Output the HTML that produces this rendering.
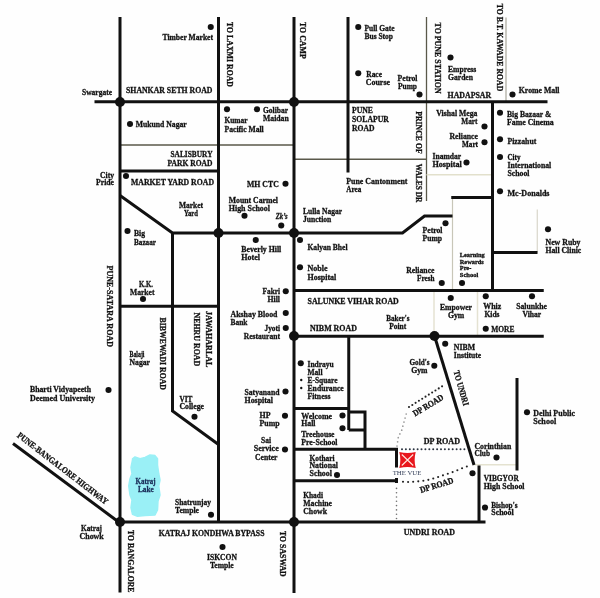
<!DOCTYPE html>
<html><head><meta charset="utf-8"><style>
html,body{margin:0;padding:0;background:#fff;}
svg{display:block;will-change:transform;filter:blur(0.3px);}
text{font-family:"Liberation Serif", serif;stroke-width:0.3px;}
</style></head><body>
<svg width="600" height="598" viewBox="0 0 600 598">
<rect width="600" height="598" fill="#fefefe"/>
<path d="M120,145 L294,145" fill="none" stroke="#5a584a" stroke-width="1.3" stroke-linecap="butt" stroke-linejoin="miter"/>
<path d="M294,159.25 L426.5,159.25" fill="none" stroke="#5a584a" stroke-width="1.3" stroke-linecap="butt" stroke-linejoin="miter"/>
<path d="M426.5,17 L426.5,201" fill="none" stroke="#5a584a" stroke-width="1.3" stroke-linecap="butt" stroke-linejoin="miter"/>
<path d="M426.5,174.75 L492.5,174.75" fill="none" stroke="#e2e0cc" stroke-width="1.5" stroke-linecap="butt" stroke-linejoin="miter"/>
<path d="M506,17.5 L506,101.75" fill="none" stroke="#a8a69a" stroke-width="1.2" stroke-linecap="butt" stroke-linejoin="miter"/>
<path d="M452.5,197 L452.5,290" fill="none" stroke="#c8c6b8" stroke-width="1.2" stroke-linecap="butt" stroke-linejoin="miter"/>
<path d="M537.3,209.5 L537.3,252.75" fill="none" stroke="#dcdacf" stroke-width="1.3" stroke-linecap="butt" stroke-linejoin="miter"/>
<path d="M434,290 L434,336" fill="none" stroke="#e4e2d2" stroke-width="1.5" stroke-linecap="butt" stroke-linejoin="miter"/>
<path d="M477.5,290 L477.5,336" fill="none" stroke="#e4e2d2" stroke-width="1.5" stroke-linecap="butt" stroke-linejoin="miter"/>
<path d="M474.5,464.75 L517,464.75" fill="none" stroke="#e4e2d0" stroke-width="1.5" stroke-linecap="butt" stroke-linejoin="miter"/>
<path d="M120,17 L120,592.5" fill="none" stroke="#111" stroke-width="3.0" stroke-linecap="butt" stroke-linejoin="miter"/>
<path d="M218.5,17 L218.5,522" fill="none" stroke="#111" stroke-width="3.0" stroke-linecap="butt" stroke-linejoin="miter"/>
<path d="M294,17 L294,593" fill="none" stroke="#111" stroke-width="3.0" stroke-linecap="butt" stroke-linejoin="miter"/>
<path d="M348,17 L348,172.5" fill="none" stroke="#111" stroke-width="3.0" stroke-linecap="butt" stroke-linejoin="miter"/>
<path d="M94.5,101.75 L547.5,101.75" fill="none" stroke="#111" stroke-width="3.0" stroke-linecap="butt" stroke-linejoin="miter"/>
<path d="M120,171 L218.5,171" fill="none" stroke="#111" stroke-width="3.0" stroke-linecap="butt" stroke-linejoin="miter"/>
<path d="M120,195.5 L172.5,233 L402.5,233 L424.5,216 L452.5,216" fill="none" stroke="#111" stroke-width="3.0" stroke-linecap="butt" stroke-linejoin="miter"/>
<path d="M172.5,233 L172.5,411 L218.5,444.5" fill="none" stroke="#111" stroke-width="3.0" stroke-linecap="butt" stroke-linejoin="miter"/>
<path d="M120,306.2 L218.5,306.2" fill="none" stroke="#111" stroke-width="3.0" stroke-linecap="butt" stroke-linejoin="miter"/>
<path d="M294,290.5 L543.75,290.5" fill="none" stroke="#111" stroke-width="3.0" stroke-linecap="butt" stroke-linejoin="miter"/>
<path d="M294,336.3 L543.75,336.3" fill="none" stroke="#111" stroke-width="3.0" stroke-linecap="butt" stroke-linejoin="miter"/>
<path d="M492.5,101.75 L492.5,290.5" fill="none" stroke="#111" stroke-width="3.0" stroke-linecap="butt" stroke-linejoin="miter"/>
<path d="M451.25,197.5 L492.5,197.5" fill="none" stroke="#111" stroke-width="3.0" stroke-linecap="butt" stroke-linejoin="miter"/>
<path d="M492.5,252.5 L537.5,252.5" fill="none" stroke="#111" stroke-width="3.0" stroke-linecap="butt" stroke-linejoin="miter"/>
<path d="M294,408.5 L348.75,408.5" fill="none" stroke="#111" stroke-width="3.0" stroke-linecap="butt" stroke-linejoin="miter"/>
<path d="M348.75,336 L348.75,430" fill="none" stroke="#111" stroke-width="3.0" stroke-linecap="butt" stroke-linejoin="miter"/>
<path d="M348.75,412 L365,412 L365,449.25" fill="none" stroke="#111" stroke-width="3.0" stroke-linecap="butt" stroke-linejoin="miter"/>
<path d="M348.75,430 L365,430" fill="none" stroke="#111" stroke-width="3.0" stroke-linecap="butt" stroke-linejoin="miter"/>
<path d="M294,449.25 L396.5,449.25 L396.5,467.5" fill="none" stroke="#111" stroke-width="3.0" stroke-linecap="butt" stroke-linejoin="miter"/>
<path d="M294,480.8 L396.5,480.8" fill="none" stroke="#111" stroke-width="3.0" stroke-linecap="butt" stroke-linejoin="miter"/>
<path d="M396.5,478 L396.5,483" fill="none" stroke="#111" stroke-width="3.0" stroke-linecap="butt" stroke-linejoin="miter"/>
<path d="M120,522 L485.5,522" fill="none" stroke="#111" stroke-width="3.0" stroke-linecap="butt" stroke-linejoin="miter"/>
<path d="M434.5,336 L474,465" fill="none" stroke="#111" stroke-width="3.0" stroke-linecap="butt" stroke-linejoin="miter"/>
<path d="M479,465.5 L479,522" fill="none" stroke="#111" stroke-width="3.0" stroke-linecap="butt" stroke-linejoin="miter"/>
<path d="M517,378 L517,470.5" fill="none" stroke="#111" stroke-width="3.0" stroke-linecap="butt" stroke-linejoin="miter"/>
<path d="M13,443.5 L120,523" fill="none" stroke="#111" stroke-width="3.0" stroke-linecap="butt" stroke-linejoin="miter"/>
<circle cx="402.00" cy="449.30" r="1.0" fill="#2c3440"/>
<circle cx="405.90" cy="449.30" r="1.0" fill="#2c3440"/>
<circle cx="409.80" cy="449.30" r="1.0" fill="#2c3440"/>
<circle cx="413.70" cy="449.30" r="1.0" fill="#2c3440"/>
<circle cx="417.60" cy="449.30" r="1.0" fill="#2c3440"/>
<circle cx="421.50" cy="449.30" r="1.0" fill="#2c3440"/>
<circle cx="425.40" cy="449.30" r="1.0" fill="#2c3440"/>
<circle cx="429.30" cy="449.30" r="1.0" fill="#2c3440"/>
<circle cx="433.20" cy="449.30" r="1.0" fill="#2c3440"/>
<circle cx="437.10" cy="449.30" r="1.0" fill="#2c3440"/>
<circle cx="441.00" cy="449.30" r="1.0" fill="#2c3440"/>
<circle cx="444.90" cy="449.30" r="1.0" fill="#2c3440"/>
<circle cx="448.80" cy="449.30" r="1.0" fill="#2c3440"/>
<circle cx="452.70" cy="449.30" r="1.0" fill="#2c3440"/>
<circle cx="456.60" cy="449.30" r="1.0" fill="#2c3440"/>
<circle cx="460.50" cy="449.30" r="1.0" fill="#2c3440"/>
<circle cx="464.40" cy="449.30" r="1.0" fill="#2c3440"/>
<circle cx="403.00" cy="481.70" r="1.05" fill="#222"/>
<circle cx="408.09" cy="481.99" r="1.05" fill="#222"/>
<circle cx="413.18" cy="481.73" r="1.05" fill="#222"/>
<circle cx="418.27" cy="481.36" r="1.05" fill="#222"/>
<circle cx="423.34" cy="480.81" r="1.05" fill="#222"/>
<circle cx="428.35" cy="479.87" r="1.05" fill="#222"/>
<circle cx="433.26" cy="478.52" r="1.05" fill="#222"/>
<circle cx="438.13" cy="477.00" r="1.05" fill="#222"/>
<circle cx="442.96" cy="475.36" r="1.05" fill="#222"/>
<circle cx="447.79" cy="473.73" r="1.05" fill="#222"/>
<circle cx="452.62" cy="472.09" r="1.05" fill="#222"/>
<circle cx="457.37" cy="470.24" r="1.05" fill="#222"/>
<circle cx="462.07" cy="468.26" r="1.05" fill="#222"/>
<circle cx="466.84" cy="466.46" r="1.05" fill="#222"/>
<circle cx="409.00" cy="407.00" r="1.05" fill="#222"/>
<circle cx="412.31" cy="404.93" r="1.05" fill="#222"/>
<circle cx="415.61" cy="402.87" r="1.05" fill="#222"/>
<circle cx="418.92" cy="400.80" r="1.05" fill="#222"/>
<circle cx="422.23" cy="398.73" r="1.05" fill="#222"/>
<circle cx="425.54" cy="396.67" r="1.05" fill="#222"/>
<circle cx="428.84" cy="394.60" r="1.05" fill="#222"/>
<circle cx="432.15" cy="392.53" r="1.05" fill="#222"/>
<circle cx="435.46" cy="390.46" r="1.05" fill="#222"/>
<circle cx="438.76" cy="388.40" r="1.05" fill="#222"/>
<circle cx="442.07" cy="386.33" r="1.05" fill="#222"/>
<circle cx="396.50" cy="518.50" r="0.8" fill="#707070"/>
<circle cx="396.50" cy="514.20" r="0.8" fill="#707070"/>
<circle cx="396.50" cy="509.90" r="0.8" fill="#707070"/>
<circle cx="396.50" cy="505.60" r="0.8" fill="#707070"/>
<circle cx="396.50" cy="501.30" r="0.8" fill="#707070"/>
<circle cx="396.50" cy="497.00" r="0.8" fill="#707070"/>
<circle cx="396.50" cy="492.70" r="0.8" fill="#707070"/>
<circle cx="396.50" cy="488.40" r="0.8" fill="#707070"/>
<circle cx="397.00" cy="446.00" r="0.85" fill="#9a9a9a"/>
<circle cx="397.62" cy="441.85" r="0.85" fill="#9a9a9a"/>
<circle cx="398.25" cy="437.69" r="0.85" fill="#9a9a9a"/>
<circle cx="399.86" cy="433.91" r="0.85" fill="#9a9a9a"/>
<circle cx="401.72" cy="430.20" r="0.85" fill="#9a9a9a"/>
<circle cx="402.84" cy="426.15" r="0.85" fill="#9a9a9a"/>
<circle cx="403.97" cy="422.11" r="0.85" fill="#9a9a9a"/>
<circle cx="405.09" cy="418.06" r="0.85" fill="#9a9a9a"/>
<circle cx="406.22" cy="414.01" r="0.85" fill="#9a9a9a"/>
<path d="M132.5,458.75 L135,456.9 L140,458.75 L145,457.5 L150,455 L155,455.6 L157.5,458.75 L157.5,465 L158.75,473.75 L160,480 L158.75,486 L160,495 L158,501 L157.5,510 L155,515 L145,515.6 L137.5,516.25 L132.5,514.4 L131,507.5 L132,500 L130,495 L128.75,486 L130,478.75 L132,473.75 L131,467.5 L132.5,460 Z" fill="#9af0f6" stroke="#9af0f6" stroke-width="1.5" stroke-linejoin="round"/>
<circle cx="210.75" cy="27" r="3.05" fill="#111"/>
<circle cx="130" cy="124" r="3.05" fill="#111"/>
<circle cx="126" cy="176" r="3.05" fill="#111"/>
<circle cx="127.5" cy="231" r="3.05" fill="#111"/>
<circle cx="143" cy="299" r="3.05" fill="#111"/>
<circle cx="108.5" cy="390" r="3.05" fill="#111"/>
<circle cx="194.5" cy="416.75" r="3.05" fill="#111"/>
<circle cx="211" cy="514.75" r="3.05" fill="#111"/>
<circle cx="222.5" cy="547" r="3.05" fill="#111"/>
<circle cx="285.5" cy="391.5" r="3.05" fill="#111"/>
<circle cx="285" cy="415.75" r="3.05" fill="#111"/>
<circle cx="285" cy="449.5" r="3.05" fill="#111"/>
<circle cx="227" cy="109.25" r="3.05" fill="#111"/>
<circle cx="257" cy="109.25" r="3.05" fill="#111"/>
<circle cx="285.5" cy="183.75" r="3.05" fill="#111"/>
<circle cx="244.5" cy="215.75" r="3.05" fill="#111"/>
<circle cx="281.25" cy="225.5" r="3.05" fill="#111"/>
<circle cx="255.75" cy="240" r="3.05" fill="#111"/>
<circle cx="300" cy="240" r="3.05" fill="#111"/>
<circle cx="300" cy="267.25" r="3.05" fill="#111"/>
<circle cx="285.75" cy="291.25" r="3.05" fill="#111"/>
<circle cx="285.75" cy="313" r="3.05" fill="#111"/>
<circle cx="285.75" cy="328" r="3.05" fill="#111"/>
<circle cx="300.75" cy="363.25" r="3.05" fill="#111"/>
<circle cx="342.5" cy="415.5" r="3.05" fill="#111"/>
<circle cx="342.5" cy="428.25" r="3.05" fill="#111"/>
<circle cx="337" cy="475" r="3.05" fill="#111"/>
<circle cx="496.5" cy="457.5" r="3.05" fill="#111"/>
<circle cx="472.5" cy="473.25" r="3.05" fill="#111"/>
<circle cx="485" cy="507.5" r="3.05" fill="#111"/>
<circle cx="527" cy="412.25" r="3.05" fill="#111"/>
<circle cx="445.2" cy="343.7" r="3.05" fill="#111"/>
<circle cx="434.3" cy="365.8" r="3.05" fill="#111"/>
<circle cx="450.75" cy="298" r="3.05" fill="#111"/>
<circle cx="485.75" cy="296.25" r="3.05" fill="#111"/>
<circle cx="532" cy="296.25" r="3.05" fill="#111"/>
<circle cx="485.75" cy="328.75" r="3.05" fill="#111"/>
<circle cx="441.75" cy="283" r="3.05" fill="#111"/>
<circle cx="462" cy="283" r="3.05" fill="#111"/>
<circle cx="445.5" cy="223.25" r="3.05" fill="#111"/>
<circle cx="548" cy="229.25" r="3.05" fill="#111"/>
<circle cx="500" cy="191.25" r="3.05" fill="#111"/>
<circle cx="500" cy="157" r="3.05" fill="#111"/>
<circle cx="500" cy="139.3" r="3.05" fill="#111"/>
<circle cx="500" cy="112.75" r="3.05" fill="#111"/>
<circle cx="512.5" cy="94.5" r="3.05" fill="#111"/>
<circle cx="484.5" cy="126.5" r="3.05" fill="#111"/>
<circle cx="484.5" cy="142.25" r="3.05" fill="#111"/>
<circle cx="466.5" cy="162.5" r="3.05" fill="#111"/>
<circle cx="358.25" cy="27" r="3.05" fill="#111"/>
<circle cx="358.25" cy="73.25" r="3.05" fill="#111"/>
<circle cx="419.5" cy="94.5" r="3.05" fill="#111"/>
<circle cx="450.5" cy="57.5" r="3.05" fill="#111"/>
<circle cx="301.25" cy="380" r="1.2" fill="#111"/>
<circle cx="301.25" cy="388" r="1.2" fill="#111"/>
<circle cx="120" cy="102" r="5" fill="#111"/>
<circle cx="294" cy="102" r="5" fill="#111"/>
<circle cx="218.5" cy="233" r="5" fill="#111"/>
<circle cx="294" cy="233" r="5" fill="#111"/>
<circle cx="294" cy="336" r="5" fill="#111"/>
<circle cx="434.5" cy="336" r="5" fill="#111"/>
<circle cx="120" cy="522" r="5" fill="#111"/>
<circle cx="294" cy="522" r="5" fill="#111"/>
<text x="162.5" y="40" font-size="8.6" textLength="50.50" lengthAdjust="spacingAndGlyphs" font-weight="bold" fill="#111" stroke="#111">Timber Market</text>
<text x="126" y="92.5" font-size="8.8" textLength="86.50" lengthAdjust="spacingAndGlyphs" font-weight="bold" fill="#111" stroke="#111">SHANKAR SETH ROAD</text>
<text x="82" y="95" font-size="8.6" textLength="30.00" lengthAdjust="spacingAndGlyphs" font-weight="bold" fill="#111" stroke="#111">Swargate</text>
<text x="135.75" y="127" font-size="8.6" textLength="51.00" lengthAdjust="spacingAndGlyphs" font-weight="bold" fill="#111" stroke="#111">Mukund Nagar</text>
<text x="170.5" y="157" font-size="8.8" textLength="42.00" lengthAdjust="spacingAndGlyphs" font-weight="bold" fill="#111" stroke="#111">SALISBURY</text>
<text x="167.5" y="165.5" font-size="8.8" textLength="45.00" lengthAdjust="spacingAndGlyphs" font-weight="bold" fill="#111" stroke="#111">PARK ROAD</text>
<text x="100" y="178" font-size="8.6" textLength="14.00" lengthAdjust="spacingAndGlyphs" font-weight="bold" fill="#111" stroke="#111">City</text>
<text x="96" y="184.7" font-size="8.6" textLength="18.00" lengthAdjust="spacingAndGlyphs" font-weight="bold" fill="#111" stroke="#111">Pride</text>
<text x="131" y="184.5" font-size="8.8" textLength="83.00" lengthAdjust="spacingAndGlyphs" font-weight="bold" fill="#111" stroke="#111">MARKET YARD ROAD</text>
<text x="179" y="208" font-size="8.6" textLength="24.00" lengthAdjust="spacingAndGlyphs" font-weight="bold" fill="#111" stroke="#111">Market</text>
<text x="184" y="216" font-size="8.6" textLength="14.00" lengthAdjust="spacingAndGlyphs" font-weight="bold" fill="#111" stroke="#111">Yard</text>
<text x="134" y="236" font-size="8.6" textLength="11.00" lengthAdjust="spacingAndGlyphs" font-weight="bold" fill="#111" stroke="#111">Big</text>
<text x="134" y="244.5" font-size="8.6" textLength="22.00" lengthAdjust="spacingAndGlyphs" font-weight="bold" fill="#111" stroke="#111">Bazaar</text>
<text x="139" y="287" font-size="8.8" textLength="14.00" lengthAdjust="spacingAndGlyphs" font-weight="bold" fill="#111" stroke="#111">K.K.</text>
<text x="130" y="295" font-size="8.6" textLength="24.50" lengthAdjust="spacingAndGlyphs" font-weight="bold" fill="#111" stroke="#111">Market</text>
<text x="129.5" y="357" font-size="8.6" textLength="15.00" lengthAdjust="spacingAndGlyphs" font-weight="bold" fill="#111" stroke="#111">Balaji</text>
<text x="129.5" y="365" font-size="8.6" textLength="20.50" lengthAdjust="spacingAndGlyphs" font-weight="bold" fill="#111" stroke="#111">Nagar</text>
<text x="30" y="392" font-size="8.6" textLength="61.00" lengthAdjust="spacingAndGlyphs" font-weight="bold" fill="#111" stroke="#111">Bharti Vidyapeeth</text>
<text x="30" y="400.5" font-size="8.6" textLength="65.00" lengthAdjust="spacingAndGlyphs" font-weight="bold" fill="#111" stroke="#111">Deemed University</text>
<text x="179.5" y="401.8" font-size="8.8" textLength="13.00" lengthAdjust="spacingAndGlyphs" font-weight="bold" fill="#111" stroke="#111">VIT</text>
<text x="179.5" y="409" font-size="8.6" textLength="24.50" lengthAdjust="spacingAndGlyphs" font-weight="bold" fill="#111" stroke="#111">College</text>
<text x="81" y="531" font-size="8.6" textLength="21.00" lengthAdjust="spacingAndGlyphs" font-weight="bold" fill="#111" stroke="#111">Katraj</text>
<text x="79.5" y="539" font-size="8.6" textLength="24.25" lengthAdjust="spacingAndGlyphs" font-weight="bold" fill="#111" stroke="#111">Chowk</text>
<text x="175" y="505" font-size="8.6" textLength="36.00" lengthAdjust="spacingAndGlyphs" font-weight="bold" fill="#111" stroke="#111">Shatrunjay</text>
<text x="175" y="512.5" font-size="8.6" textLength="24.00" lengthAdjust="spacingAndGlyphs" font-weight="bold" fill="#111" stroke="#111">Temple</text>
<text x="158.75" y="536.25" font-size="8.8" textLength="105.75" lengthAdjust="spacingAndGlyphs" font-weight="bold" fill="#111" stroke="#111">KATRAJ KONDHWA BYPASS</text>
<text x="207" y="559.5" font-size="8.8" textLength="30.00" lengthAdjust="spacingAndGlyphs" font-weight="bold" fill="#111" stroke="#111">ISKCON</text>
<text x="210" y="567.5" font-size="8.6" textLength="23.75" lengthAdjust="spacingAndGlyphs" font-weight="bold" fill="#111" stroke="#111">Temple</text>
<text x="244.5" y="395" font-size="8.6" textLength="35.00" lengthAdjust="spacingAndGlyphs" font-weight="bold" fill="#111" stroke="#111">Satyanand</text>
<text x="244.5" y="402.5" font-size="8.6" textLength="28.50" lengthAdjust="spacingAndGlyphs" font-weight="bold" fill="#111" stroke="#111">Hospital</text>
<text x="259.5" y="418" font-size="8.8" textLength="11.00" lengthAdjust="spacingAndGlyphs" font-weight="bold" fill="#111" stroke="#111">HP</text>
<text x="259.5" y="426" font-size="8.6" textLength="20.00" lengthAdjust="spacingAndGlyphs" font-weight="bold" fill="#111" stroke="#111">Pump</text>
<text x="261" y="442.5" font-size="8.6" textLength="10.00" lengthAdjust="spacingAndGlyphs" font-weight="bold" fill="#111" stroke="#111">Sai</text>
<text x="253.75" y="451" font-size="8.6" textLength="25.00" lengthAdjust="spacingAndGlyphs" font-weight="bold" fill="#111" stroke="#111">Service</text>
<text x="255" y="459.5" font-size="8.6" textLength="22.50" lengthAdjust="spacingAndGlyphs" font-weight="bold" fill="#111" stroke="#111">Center</text>
<text x="224.5" y="123.25" font-size="8.6" textLength="23.00" lengthAdjust="spacingAndGlyphs" font-weight="bold" fill="#111" stroke="#111">Kumar</text>
<text x="224.5" y="131.75" font-size="8.6" textLength="39.25" lengthAdjust="spacingAndGlyphs" font-weight="bold" fill="#111" stroke="#111">Pacific Mall</text>
<text x="263" y="113" font-size="8.6" textLength="25.00" lengthAdjust="spacingAndGlyphs" font-weight="bold" fill="#111" stroke="#111">Golibar</text>
<text x="263" y="121.25" font-size="8.6" textLength="25.75" lengthAdjust="spacingAndGlyphs" font-weight="bold" fill="#111" stroke="#111">Maidan</text>
<text x="247" y="187" font-size="8.8" textLength="31.75" lengthAdjust="spacingAndGlyphs" font-weight="bold" fill="#111" stroke="#111">MH CTC</text>
<text x="228.75" y="202.5" font-size="8.6" textLength="49.25" lengthAdjust="spacingAndGlyphs" font-weight="bold" fill="#111" stroke="#111">Mount Carmel</text>
<text x="228.75" y="210.5" font-size="8.6" textLength="41.25" lengthAdjust="spacingAndGlyphs" font-weight="bold" fill="#111" stroke="#111">High School</text>
<text x="241.25" y="251.75" font-size="8.6" textLength="40.00" lengthAdjust="spacingAndGlyphs" font-weight="bold" fill="#111" stroke="#111">Beverly Hill</text>
<text x="241.25" y="259.5" font-size="8.6" textLength="18.75" lengthAdjust="spacingAndGlyphs" font-weight="bold" fill="#111" stroke="#111">Hotel</text>
<text x="303" y="213.75" font-size="8.6" textLength="39.00" lengthAdjust="spacingAndGlyphs" font-weight="bold" fill="#111" stroke="#111">Lulla Nagar</text>
<text x="303" y="222" font-size="8.6" textLength="28.25" lengthAdjust="spacingAndGlyphs" font-weight="bold" fill="#111" stroke="#111">Junction</text>
<text x="307.5" y="249.5" font-size="8.6" textLength="40.00" lengthAdjust="spacingAndGlyphs" font-weight="bold" fill="#111" stroke="#111">Kalyan Bhel</text>
<text x="307.5" y="270.5" font-size="8.6" textLength="20.00" lengthAdjust="spacingAndGlyphs" font-weight="bold" fill="#111" stroke="#111">Noble</text>
<text x="307.5" y="279.5" font-size="8.6" textLength="28.75" lengthAdjust="spacingAndGlyphs" font-weight="bold" fill="#111" stroke="#111">Hospital</text>
<text x="262.5" y="293.75" font-size="8.6" textLength="17.50" lengthAdjust="spacingAndGlyphs" font-weight="bold" fill="#111" stroke="#111">Fakri</text>
<text x="267.5" y="301.75" font-size="8.6" textLength="12.50" lengthAdjust="spacingAndGlyphs" font-weight="bold" fill="#111" stroke="#111">Hill</text>
<text x="307.5" y="303.5" font-size="8.8" textLength="91.25" lengthAdjust="spacingAndGlyphs" font-weight="bold" fill="#111" stroke="#111">SALUNKE VIHAR ROAD</text>
<text x="230.5" y="316.75" font-size="8.6" textLength="47.00" lengthAdjust="spacingAndGlyphs" font-weight="bold" fill="#111" stroke="#111">Akshay Blood</text>
<text x="230.5" y="324.5" font-size="8.6" textLength="17.00" lengthAdjust="spacingAndGlyphs" font-weight="bold" fill="#111" stroke="#111">Bank</text>
<text x="264.5" y="330.75" font-size="8.6" textLength="15.50" lengthAdjust="spacingAndGlyphs" font-weight="bold" fill="#111" stroke="#111">Jyoti</text>
<text x="243.75" y="338.75" font-size="8.6" textLength="36.25" lengthAdjust="spacingAndGlyphs" font-weight="bold" fill="#111" stroke="#111">Restaurant</text>
<text x="310" y="330.5" font-size="8.8" textLength="47.00" lengthAdjust="spacingAndGlyphs" font-weight="bold" fill="#111" stroke="#111">NIBM ROAD</text>
<text x="307.5" y="367" font-size="8.6" textLength="26.25" lengthAdjust="spacingAndGlyphs" font-weight="bold" fill="#111" stroke="#111">Indrayu</text>
<text x="307.5" y="374.5" font-size="8.6" textLength="15.00" lengthAdjust="spacingAndGlyphs" font-weight="bold" fill="#111" stroke="#111">Mall</text>
<text x="307.5" y="383" font-size="8.6" textLength="30.00" lengthAdjust="spacingAndGlyphs" font-weight="bold" fill="#111" stroke="#111">E-Square</text>
<text x="307.5" y="391.25" font-size="8.6" textLength="36.25" lengthAdjust="spacingAndGlyphs" font-weight="bold" fill="#111" stroke="#111">Endurance</text>
<text x="307.5" y="398.75" font-size="8.6" textLength="23.00" lengthAdjust="spacingAndGlyphs" font-weight="bold" fill="#111" stroke="#111">Fitness</text>
<text x="301.25" y="418.75" font-size="8.6" textLength="30.75" lengthAdjust="spacingAndGlyphs" font-weight="bold" fill="#111" stroke="#111">Welcome</text>
<text x="301.25" y="426.25" font-size="8.6" textLength="14.25" lengthAdjust="spacingAndGlyphs" font-weight="bold" fill="#111" stroke="#111">Hall</text>
<text x="301.25" y="436.75" font-size="8.6" textLength="33.25" lengthAdjust="spacingAndGlyphs" font-weight="bold" fill="#111" stroke="#111">Treehouse</text>
<text x="301.25" y="444.5" font-size="8.6" textLength="36.25" lengthAdjust="spacingAndGlyphs" font-weight="bold" fill="#111" stroke="#111">Pre-School</text>
<text x="309.5" y="460.5" font-size="8.6" textLength="25.00" lengthAdjust="spacingAndGlyphs" font-weight="bold" fill="#111" stroke="#111">Kothari</text>
<text x="309.5" y="468.25" font-size="8.6" textLength="28.50" lengthAdjust="spacingAndGlyphs" font-weight="bold" fill="#111" stroke="#111">National</text>
<text x="309.5" y="476.25" font-size="8.6" textLength="22.50" lengthAdjust="spacingAndGlyphs" font-weight="bold" fill="#111" stroke="#111">School</text>
<text x="303.25" y="497.6" font-size="8.6" textLength="19.75" lengthAdjust="spacingAndGlyphs" font-weight="bold" fill="#111" stroke="#111">Khadi</text>
<text x="303.25" y="505.5" font-size="8.6" textLength="28.75" lengthAdjust="spacingAndGlyphs" font-weight="bold" fill="#111" stroke="#111">Machine</text>
<text x="303.25" y="513.75" font-size="8.6" textLength="23.75" lengthAdjust="spacingAndGlyphs" font-weight="bold" fill="#111" stroke="#111">Chowk</text>
<text x="403.75" y="534.5" font-size="8.8" textLength="51.25" lengthAdjust="spacingAndGlyphs" font-weight="bold" fill="#111" stroke="#111">UNDRI ROAD</text>
<text x="423.75" y="443.75" font-size="8.8" textLength="36.25" lengthAdjust="spacingAndGlyphs" font-weight="bold" fill="#111" stroke="#111">DP ROAD</text>
<text x="474.5" y="448.75" font-size="8.6" textLength="36.75" lengthAdjust="spacingAndGlyphs" font-weight="bold" fill="#111" stroke="#111">Corinthian</text>
<text x="474.5" y="456.25" font-size="8.6" textLength="15.50" lengthAdjust="spacingAndGlyphs" font-weight="bold" fill="#111" stroke="#111">Club</text>
<text x="483.75" y="480.5" font-size="8.8" textLength="35.00" lengthAdjust="spacingAndGlyphs" font-weight="bold" fill="#111" stroke="#111">VIBGYOR</text>
<text x="483.75" y="488.75" font-size="8.6" textLength="40.75" lengthAdjust="spacingAndGlyphs" font-weight="bold" fill="#111" stroke="#111">High School</text>
<text x="491.25" y="507.5" font-size="8.6" textLength="26.25" lengthAdjust="spacingAndGlyphs" font-weight="bold" fill="#111" stroke="#111">Bishop's</text>
<text x="491.25" y="515" font-size="8.6" textLength="22.50" lengthAdjust="spacingAndGlyphs" font-weight="bold" fill="#111" stroke="#111">School</text>
<text x="533.25" y="415.75" font-size="8.6" textLength="41.75" lengthAdjust="spacingAndGlyphs" font-weight="bold" fill="#111" stroke="#111">Delhi Public</text>
<text x="533.25" y="423.75" font-size="8.6" textLength="23.00" lengthAdjust="spacingAndGlyphs" font-weight="bold" fill="#111" stroke="#111">School</text>
<text x="453.75" y="349.5" font-size="8.8" textLength="21.25" lengthAdjust="spacingAndGlyphs" font-weight="bold" fill="#111" stroke="#111">NIBM</text>
<text x="453.75" y="357.5" font-size="8.6" textLength="27.50" lengthAdjust="spacingAndGlyphs" font-weight="bold" fill="#111" stroke="#111">Institute</text>
<text x="409.5" y="364.5" font-size="8.6" textLength="20.00" lengthAdjust="spacingAndGlyphs" font-weight="bold" fill="#111" stroke="#111">Gold's</text>
<text x="411.25" y="373" font-size="8.6" textLength="16.25" lengthAdjust="spacingAndGlyphs" font-weight="bold" fill="#111" stroke="#111">Gym</text>
<text x="386.25" y="321.25" font-size="8.6" textLength="23.25" lengthAdjust="spacingAndGlyphs" font-weight="bold" fill="#111" stroke="#111">Baker's</text>
<text x="389.25" y="328.75" font-size="8.6" textLength="17.00" lengthAdjust="spacingAndGlyphs" font-weight="bold" fill="#111" stroke="#111">Point</text>
<text x="440" y="310" font-size="8.6" textLength="32.00" lengthAdjust="spacingAndGlyphs" font-weight="bold" fill="#111" stroke="#111">Empower</text>
<text x="448" y="318" font-size="8.6" textLength="16.25" lengthAdjust="spacingAndGlyphs" font-weight="bold" fill="#111" stroke="#111">Gym</text>
<text x="483.25" y="308.75" font-size="8.6" textLength="18.00" lengthAdjust="spacingAndGlyphs" font-weight="bold" fill="#111" stroke="#111">Whiz</text>
<text x="484.5" y="317" font-size="8.6" textLength="15.00" lengthAdjust="spacingAndGlyphs" font-weight="bold" fill="#111" stroke="#111">Kids</text>
<text x="516.25" y="309.25" font-size="8.6" textLength="30.75" lengthAdjust="spacingAndGlyphs" font-weight="bold" fill="#111" stroke="#111">Salunkhe</text>
<text x="522.5" y="317" font-size="8.6" textLength="18.75" lengthAdjust="spacingAndGlyphs" font-weight="bold" fill="#111" stroke="#111">Vihar</text>
<text x="491.25" y="332" font-size="8.8" textLength="23.25" lengthAdjust="spacingAndGlyphs" font-weight="bold" fill="#111" stroke="#111">MORE</text>
<text x="406.25" y="273" font-size="8.6" textLength="28.25" lengthAdjust="spacingAndGlyphs" font-weight="bold" fill="#111" stroke="#111">Reliance</text>
<text x="417" y="280.75" font-size="8.6" textLength="17.50" lengthAdjust="spacingAndGlyphs" font-weight="bold" fill="#111" stroke="#111">Fresh</text>
<text x="422.5" y="232.5" font-size="8.6" textLength="20.00" lengthAdjust="spacingAndGlyphs" font-weight="bold" fill="#111" stroke="#111">Petrol</text>
<text x="422.5" y="240.5" font-size="8.6" textLength="19.50" lengthAdjust="spacingAndGlyphs" font-weight="bold" fill="#111" stroke="#111">Pump</text>
<text x="545.5" y="244.5" font-size="8.6" textLength="35.00" lengthAdjust="spacingAndGlyphs" font-weight="bold" fill="#111" stroke="#111">New Ruby</text>
<text x="545.5" y="252.5" font-size="8.6" textLength="35.75" lengthAdjust="spacingAndGlyphs" font-weight="bold" fill="#111" stroke="#111">Hall Clinic</text>
<text x="507.5" y="195.5" font-size="8.6" textLength="42.00" lengthAdjust="spacingAndGlyphs" font-weight="bold" fill="#111" stroke="#111">Mc-Donalds</text>
<text x="507.5" y="160" font-size="8.6" textLength="13.00" lengthAdjust="spacingAndGlyphs" font-weight="bold" fill="#111" stroke="#111">City</text>
<text x="507.5" y="168.25" font-size="8.6" textLength="43.75" lengthAdjust="spacingAndGlyphs" font-weight="bold" fill="#111" stroke="#111">International</text>
<text x="507.5" y="176.25" font-size="8.6" textLength="22.00" lengthAdjust="spacingAndGlyphs" font-weight="bold" fill="#111" stroke="#111">School</text>
<text x="507.5" y="143.75" font-size="8.6" textLength="28.75" lengthAdjust="spacingAndGlyphs" font-weight="bold" fill="#111" stroke="#111">Pizzahut</text>
<text x="507" y="116.75" font-size="8.6" textLength="44.25" lengthAdjust="spacingAndGlyphs" font-weight="bold" fill="#111" stroke="#111">Big Bazaar &amp;</text>
<text x="507" y="125" font-size="8.6" textLength="46.75" lengthAdjust="spacingAndGlyphs" font-weight="bold" fill="#111" stroke="#111">Fame Cinema</text>
<text x="518.75" y="92.5" font-size="8.6" textLength="40.75" lengthAdjust="spacingAndGlyphs" font-weight="bold" fill="#111" stroke="#111">Krome Mall</text>
<text x="447.5" y="98" font-size="8.8" textLength="43.75" lengthAdjust="spacingAndGlyphs" font-weight="bold" fill="#111" stroke="#111">HADAPSAR</text>
<text x="436.25" y="116.25" font-size="8.6" textLength="41.25" lengthAdjust="spacingAndGlyphs" font-weight="bold" fill="#111" stroke="#111">Vishal Mega</text>
<text x="461.25" y="124.25" font-size="8.6" textLength="16.25" lengthAdjust="spacingAndGlyphs" font-weight="bold" fill="#111" stroke="#111">Mart</text>
<text x="449.5" y="138.75" font-size="8.6" textLength="28.50" lengthAdjust="spacingAndGlyphs" font-weight="bold" fill="#111" stroke="#111">Reliance</text>
<text x="462" y="146.75" font-size="8.6" textLength="16.00" lengthAdjust="spacingAndGlyphs" font-weight="bold" fill="#111" stroke="#111">Mart</text>
<text x="432.5" y="158.75" font-size="8.6" textLength="28.75" lengthAdjust="spacingAndGlyphs" font-weight="bold" fill="#111" stroke="#111">Inamdar</text>
<text x="432.5" y="167" font-size="8.6" textLength="29.25" lengthAdjust="spacingAndGlyphs" font-weight="bold" fill="#111" stroke="#111">Hospital</text>
<text x="346.25" y="183.75" font-size="8.6" textLength="61.25" lengthAdjust="spacingAndGlyphs" font-weight="bold" fill="#111" stroke="#111">Pune Cantonment</text>
<text x="346.25" y="191.75" font-size="8.6" textLength="15.00" lengthAdjust="spacingAndGlyphs" font-weight="bold" fill="#111" stroke="#111">Area</text>
<text x="352" y="112.5" font-size="8.8" textLength="21.00" lengthAdjust="spacingAndGlyphs" font-weight="bold" fill="#111" stroke="#111">PUNE</text>
<text x="352" y="122" font-size="8.8" textLength="36.75" lengthAdjust="spacingAndGlyphs" font-weight="bold" fill="#111" stroke="#111">SOLAPUR</text>
<text x="352" y="131.25" font-size="8.8" textLength="22.50" lengthAdjust="spacingAndGlyphs" font-weight="bold" fill="#111" stroke="#111">ROAD</text>
<text x="364.5" y="30.5" font-size="8.6" textLength="30.00" lengthAdjust="spacingAndGlyphs" font-weight="bold" fill="#111" stroke="#111">Pull Gate</text>
<text x="364.5" y="39.25" font-size="8.6" textLength="28.50" lengthAdjust="spacingAndGlyphs" font-weight="bold" fill="#111" stroke="#111">Bus Stop</text>
<text x="366.25" y="77" font-size="8.6" textLength="15.75" lengthAdjust="spacingAndGlyphs" font-weight="bold" fill="#111" stroke="#111">Race</text>
<text x="365.75" y="85" font-size="8.6" textLength="24.25" lengthAdjust="spacingAndGlyphs" font-weight="bold" fill="#111" stroke="#111">Course</text>
<text x="397.5" y="80.5" font-size="8.6" textLength="20.00" lengthAdjust="spacingAndGlyphs" font-weight="bold" fill="#111" stroke="#111">Petrol</text>
<text x="398" y="89.25" font-size="8.6" textLength="19.00" lengthAdjust="spacingAndGlyphs" font-weight="bold" fill="#111" stroke="#111">Pump</text>
<text x="448" y="71.75" font-size="8.6" textLength="28.25" lengthAdjust="spacingAndGlyphs" font-weight="bold" fill="#111" stroke="#111">Empress</text>
<text x="448" y="79.5" font-size="8.6" textLength="25.00" lengthAdjust="spacingAndGlyphs" font-weight="bold" fill="#111" stroke="#111">Garden</text>
<text x="459.8" y="256.8" font-size="6.6" textLength="25.00" lengthAdjust="spacingAndGlyphs" font-weight="bold" fill="#111" stroke="#111">Learning</text>
<text x="459.8" y="263.6" font-size="6.6" textLength="23.95" lengthAdjust="spacingAndGlyphs" font-weight="bold" fill="#111" stroke="#111">Rewards</text>
<text x="459.8" y="270.2" font-size="6.6" textLength="11.45" lengthAdjust="spacingAndGlyphs" font-weight="bold" fill="#111" stroke="#111">Pre-</text>
<text x="459.8" y="277" font-size="6.6" textLength="18.50" lengthAdjust="spacingAndGlyphs" font-weight="bold" fill="#111" stroke="#111">School</text>
<text x="275.75" y="219.25" font-size="8.6" textLength="11.75" lengthAdjust="spacingAndGlyphs" font-weight="bold" font-style="italic" fill="#111" stroke="#111">Zk&#8217;s</text>
<text x="135.6" y="483.75" font-size="8.6" textLength="20.00" lengthAdjust="spacingAndGlyphs" font-weight="bold" fill="#1b2f5a" stroke="#1b2f5a">Katraj</text>
<text x="138" y="492" font-size="8.6" textLength="15.75" lengthAdjust="spacingAndGlyphs" font-weight="bold" fill="#1b2f5a" stroke="#1b2f5a">Lake</text>
<text x="392.7" y="475" font-size="5.8" textLength="28.6" lengthAdjust="spacingAndGlyphs" fill="#2e3a55" style="stroke-width:0">THE VUE</text>
<text transform="translate(226.5,22) rotate(90)" x="0" y="0" font-size="8.8" textLength="65.00" lengthAdjust="spacingAndGlyphs" font-weight="bold" fill="#111" stroke="#111">TO LAXMI ROAD</text>
<text transform="translate(300.0,22) rotate(90)" x="0" y="0" font-size="8.8" textLength="36.75" lengthAdjust="spacingAndGlyphs" font-weight="bold" fill="#111" stroke="#111">TO CAMP</text>
<text transform="translate(434.5,22.5) rotate(90)" x="0" y="0" font-size="8.8" textLength="71.25" lengthAdjust="spacingAndGlyphs" font-weight="bold" fill="#111" stroke="#111">TO PUNE STATION</text>
<text transform="translate(496.5,3.75) rotate(90)" x="0" y="0" font-size="8.8" textLength="87.50" lengthAdjust="spacingAndGlyphs" font-weight="bold" fill="#111" stroke="#111">TO B.T. KAWADE ROAD</text>
<text transform="translate(415.75,111.25) rotate(90)" x="0" y="0" font-size="8.8" textLength="42.50" lengthAdjust="spacingAndGlyphs" font-weight="bold" fill="#111" stroke="#111">PRINCE OF</text>
<text transform="translate(415.75,163.75) rotate(90)" x="0" y="0" font-size="8.8" textLength="38.75" lengthAdjust="spacingAndGlyphs" font-weight="bold" fill="#111" stroke="#111">WALES DR</text>
<text transform="translate(107.0,265.5) rotate(90)" x="0" y="0" font-size="8.8" textLength="81.50" lengthAdjust="spacingAndGlyphs" font-weight="bold" fill="#111" stroke="#111">PUNE-SATARA ROAD</text>
<text transform="translate(160.0,317.5) rotate(90)" x="0" y="0" font-size="8.8" textLength="72.50" lengthAdjust="spacingAndGlyphs" font-weight="bold" fill="#111" stroke="#111">BIBWEWADI ROAD</text>
<text transform="translate(205.75,311) rotate(90)" x="0" y="0" font-size="8.8" textLength="56.50" lengthAdjust="spacingAndGlyphs" font-weight="bold" fill="#111" stroke="#111">JAWAHARLAL</text>
<text transform="translate(193.75,312.5) rotate(90)" x="0" y="0" font-size="8.8" textLength="53.75" lengthAdjust="spacingAndGlyphs" font-weight="bold" fill="#111" stroke="#111">NEHRU ROAD</text>
<text transform="translate(127.80000000000001,530) rotate(90)" x="0" y="0" font-size="8.8" textLength="62.50" lengthAdjust="spacingAndGlyphs" font-weight="bold" fill="#111" stroke="#111">TO BANGALORE</text>
<text transform="translate(280.0,531) rotate(90)" x="0" y="0" font-size="8.8" textLength="45.70" lengthAdjust="spacingAndGlyphs" font-weight="bold" fill="#111" stroke="#111">TO SASWAD</text>
<text transform="translate(16.5,436.5) rotate(37.6)" x="0" y="0" font-size="8.8" textLength="112.00" lengthAdjust="spacingAndGlyphs" font-weight="bold" fill="#111" stroke="#111">PUNE-BANGALORE HIGHWAY</text>
<text transform="translate(415,416.5) rotate(-31)" x="0" y="0" font-size="8.8" textLength="34.00" lengthAdjust="spacingAndGlyphs" font-weight="bold" fill="#111" stroke="#111">DP ROAD</text>
<text transform="translate(421,493) rotate(-17)" x="0" y="0" font-size="8.8" textLength="34.50" lengthAdjust="spacingAndGlyphs" font-weight="bold" fill="#111" stroke="#111">DP ROAD</text>
<text transform="translate(453.5,371.5) rotate(74)" x="0" y="0" font-size="8.8" textLength="36.00" lengthAdjust="spacingAndGlyphs" font-weight="bold" fill="#111" stroke="#111">TO UNDRI</text>
<path d="M399.3,452 Q407.5,454.1 415.7,452 Q413.59999999999997,460.0 415.7,468 Q407.5,465.9 399.3,468 Q401.40000000000003,460.0 399.3,452 Z" fill="#e8161c"/>
<path d="M401.8,454.5 L413.2,465.5 M413.2,454.5 L401.8,465.5" stroke="#ffe4dc" stroke-width="1.15"/>
</svg>
</body></html>
